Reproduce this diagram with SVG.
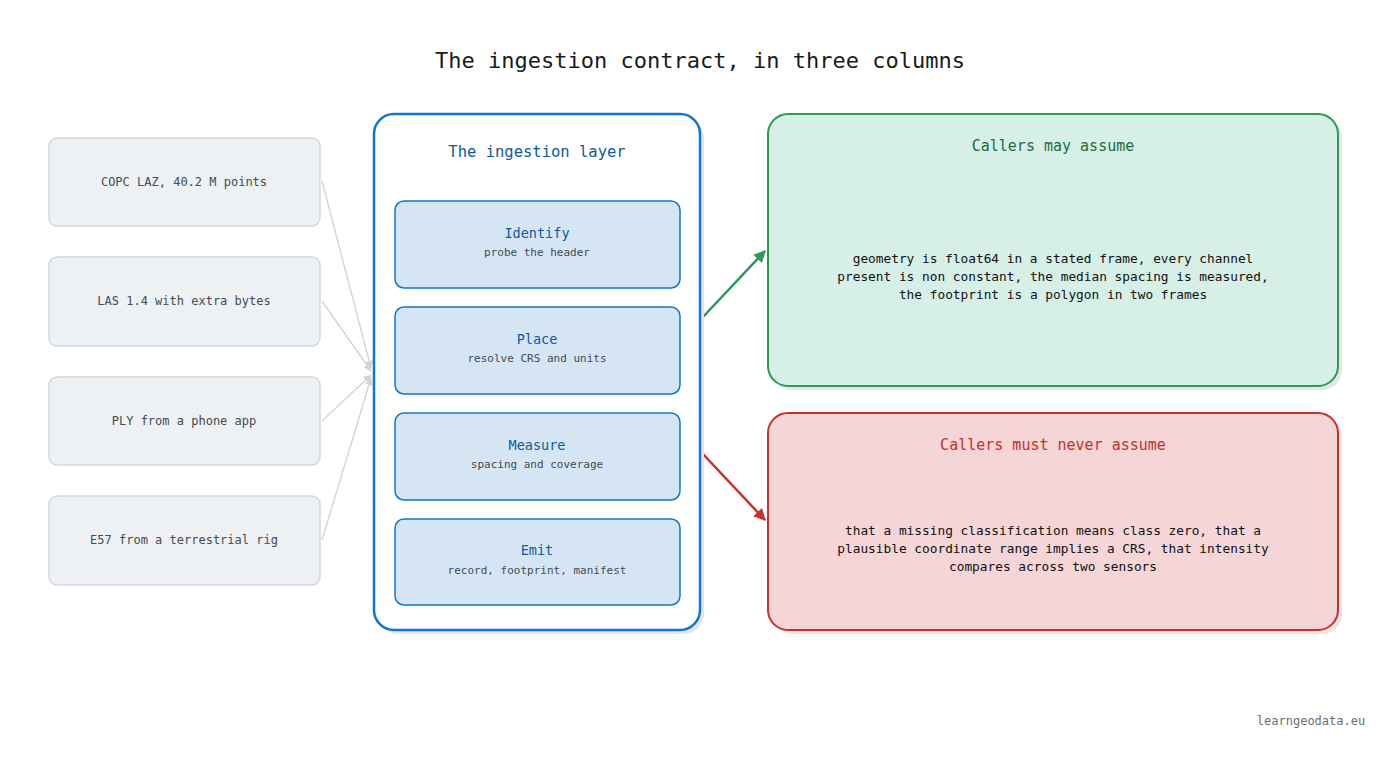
<svg xmlns="http://www.w3.org/2000/svg" width="1400" height="760" viewBox="0 0 1400 760">
<style>
text{font-family:"DejaVu Sans Mono","Liberation Mono",monospace;text-anchor:middle}
.src rect{fill:#eef1f4;stroke:#d3d8de;stroke-width:1.5}
.src text{font-size:12px;fill:#444b52}
.step rect{fill:#d5e5f4;stroke:#1177cc;stroke-width:1.5}
.step .t{font-size:13.5px;fill:#0b5aa3}
.step .s{font-size:11px;fill:#444b52}
.body{font-size:12.8px;fill:#111}
.shadow{fill:#e6e6e6}
</style>
<defs>
<marker id="ag" viewBox="0 0 10 10" refX="9" refY="5" markerWidth="8" markerHeight="8" orient="auto" markerUnits="userSpaceOnUse"><path d="M0,0L10,5L0,10z" fill="#d0d4d8"/></marker>
<marker id="agr" viewBox="0 0 10 10" refX="9" refY="5" markerWidth="12" markerHeight="12" orient="auto" markerUnits="userSpaceOnUse"><path d="M0,0L10,5L0,10z" fill="#2a9a55"/></marker>
<marker id="ar" viewBox="0 0 10 10" refX="9" refY="5" markerWidth="12" markerHeight="12" orient="auto" markerUnits="userSpaceOnUse"><path d="M0,0L10,5L0,10z" fill="#c8302c"/></marker>
</defs>
<rect width="1400" height="760" fill="#fff"/>
<text x="700" y="68" style="font-size:22px;fill:#1a1a1a">The ingestion contract, in three columns</text>

<g id="connectors" fill="none" stroke-width="1.5">
<path d="M322,181L371,368" stroke="#d3d7db" marker-end="url(#ag)"/>
<path d="M322,301L371,371" stroke="#d3d7db" marker-end="url(#ag)"/>
<path d="M322,421L371,375" stroke="#d3d7db" marker-end="url(#ag)"/>
<path d="M322,540L371,378" stroke="#d3d7db" marker-end="url(#ag)"/>
<path d="M702,318L765,251" stroke="#2a9a55" stroke-width="2.5" marker-end="url(#agr)"/>
<path d="M702,453L765,520" stroke="#c8302c" stroke-width="2.5" marker-end="url(#ar)"/>
</g>

<g id="src1" class="src"><rect x="49" y="138" width="271" height="88" rx="8"/><text x="184" y="186">COPC LAZ, 40.2 M points</text></g>
<g id="src2" class="src"><rect x="49" y="257" width="271" height="89" rx="8"/><text x="184" y="305">LAS 1.4 with extra bytes</text></g>
<g id="src3" class="src"><rect x="49" y="377" width="271" height="88" rx="8"/><text x="184" y="425">PLY from a phone app</text></g>
<g id="src4" class="src"><rect x="49" y="496" width="271" height="89" rx="8"/><text x="184" y="544">E57 from a terrestrial rig</text></g>

<g id="layer">
<rect class="shadow" x="378" y="118" width="326" height="516" rx="20"/>
<rect x="374" y="114" width="326" height="516" rx="20" fill="#fff" stroke="#1177cc" stroke-width="2.5"/>
<text x="537" y="157" style="font-size:15.5px;fill:#0b5aa3">The ingestion layer</text>
</g>
<g id="identify" class="step"><rect x="395" y="201" width="285" height="87" rx="9"/><text class="t" x="537" y="238">Identify</text><text class="s" x="537" y="256">probe the header</text></g>
<g id="place" class="step"><rect x="395" y="307" width="285" height="87" rx="9"/><text class="t" x="537" y="344">Place</text><text class="s" x="537" y="362">resolve CRS and units</text></g>
<g id="measure" class="step"><rect x="395" y="413" width="285" height="87" rx="9"/><text class="t" x="537" y="450">Measure</text><text class="s" x="537" y="468">spacing and coverage</text></g>
<g id="emit" class="step"><rect x="395" y="519" width="285" height="86" rx="9"/><text class="t" x="537" y="555">Emit</text><text class="s" x="537" y="574">record, footprint, manifest</text></g>

<g id="may">
<rect class="shadow" x="772" y="118" width="570" height="272" rx="20"/>
<rect x="768" y="114" width="570" height="272" rx="20" fill="#d6efe7" stroke="#2a9a55" stroke-width="2"/>
<text x="1053" y="151" style="font-size:15px;fill:#1e6b3e">Callers may assume</text>
<text class="body" x="1053" y="263">geometry is float64 in a stated frame, every channel</text>
<text class="body" x="1053" y="281">present is non constant, the median spacing is measured,</text>
<text class="body" x="1053" y="299">the footprint is a polygon in two frames</text>
</g>
<g id="never">
<rect class="shadow" x="772" y="417" width="570" height="217" rx="20"/>
<rect x="768" y="413" width="570" height="217" rx="20" fill="#f5d5d5" stroke="#c8302c" stroke-width="2"/>
<text x="1053" y="450" style="font-size:15px;fill:#c8302c">Callers must never assume</text>
<text class="body" x="1053" y="535">that a missing classification means class zero, that a</text>
<text class="body" x="1053" y="553">plausible coordinate range implies a CRS, that intensity</text>
<text class="body" x="1053" y="571">compares across two sensors</text>
</g>
<text x="1311" y="725" style="font-size:12px;fill:#6a6f75">learngeodata.eu</text>
</svg>
